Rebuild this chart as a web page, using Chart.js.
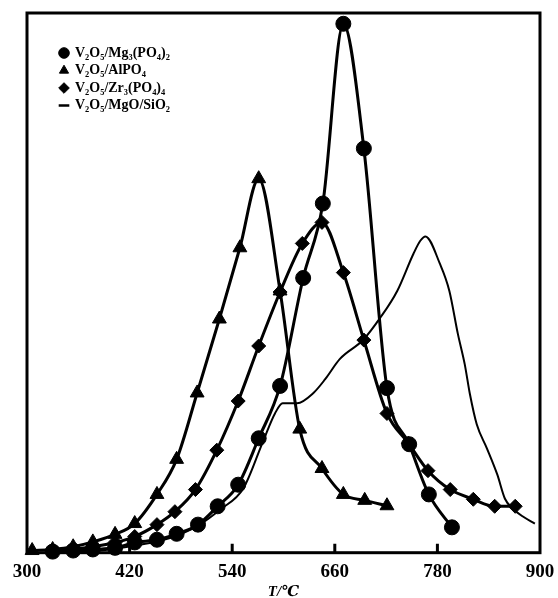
<!DOCTYPE html>
<html><head><meta charset="utf-8">
<script src="https://cdn.jsdelivr.net/npm/chart.js@4"></script>
<style>html,body{margin:0;padding:0;background:#fff}</style>
</head><body>
<canvas id="c" width="558" height="598"></canvas>
<script>
// ---- data (temperature in °C, signal intensity in arbitrary units 0-100) ----
const seriesNames = ['V₂O₅/Mg₃(PO₄)₂', 'V₂O₅/AlPO₄', 'V₂O₅/Zr₃(PO₄)₄', 'V₂O₅/MgO/SiO₂'];

const mgTemps  = [330, 354, 377, 403, 426, 452, 475, 500, 523, 547, 571, 596, 623, 646, 670, 694, 721, 747, 770, 797];
const mgValues = [0.2, 0.4, 0.6, 0.9, 1.9, 2.4, 3.5, 5.2, 8.6, 12.6, 21.2, 30.9, 50.9, 64.7, 98.0, 74.9, 30.5, 20.1, 10.8, 4.7];

const alTemps  = [306, 330, 354, 377, 403, 426, 452, 475, 499, 525, 549, 571, 596, 619, 645, 670, 695, 721];
const alValues = [0.4, 0.6, 1.1, 2.0, 3.4, 5.4, 10.8, 17.3, 29.6, 43.3, 56.5, 69.3, 48.5, 22.9, 15.6, 10.8, 9.7, 8.7];

const zrTemps  = [330, 354, 377, 403, 426, 452, 473, 497, 522, 547, 571, 596, 622, 645, 670, 694, 721, 746, 769, 795, 822, 847, 871];
const zrValues = [0.4, 0.7, 1.1, 1.9, 3.0, 5.2, 7.6, 11.7, 19.0, 28.1, 38.3, 48.3, 57.3, 61.2, 51.9, 39.4, 25.8, 20.3, 15.2, 11.7, 9.9, 8.6, 8.6];

const siTemps  = [330, 385, 426, 456, 479, 502, 526, 553, 576, 590, 599, 616, 635, 649, 666, 693, 713, 733, 752, 760, 766, 783, 794, 804, 812, 818, 826, 838, 850, 859, 868, 880, 894];
const siValues = [0.2, 0.4, 1.3, 2.2, 3.4, 5.2, 8.0, 11.9, 20.6, 25.8, 27.7, 27.7, 29.6, 32.2, 35.9, 39.4, 43.5, 48.5, 55.4, 57.8, 58.6, 53.5, 48.5, 40.5, 34.9, 29.4, 23.8, 19.3, 14.5, 10.0, 8.2, 6.7, 5.4];

const xTickValues = [300, 420, 540, 660, 780, 900];

const toPts = (xs, ys) => xs.map((x, i) => ({x: x, y: ys[i]}));

const SERIF = "'Liberation Serif', 'DejaVu Serif', serif";

const framePlugin = {
  id: 'frame',
  afterDatasetsDraw(chart) {
    const {ctx, chartArea: a, scales: {x}} = chart;
    ctx.save();
    ctx.strokeStyle = '#000';
    ctx.lineWidth = 3;
    ctx.strokeRect(a.left, a.top, a.right - a.left, a.bottom - a.top);
    ctx.beginPath();
    xTickValues.forEach(v => {
      if (v <= 300 || v >= 900) return;
      const px = x.getPixelForValue(v);
      ctx.moveTo(px, a.bottom);
      ctx.lineTo(px, a.bottom - 9);
    });
    ctx.stroke();
    ctx.restore();
  }
};

const legendShift = {
  id: 'legendShift',
  afterLayout(chart) {
    const l = chart.legend;
    if (!l) return;
    const dx = 29.5, dy = 42.5;
    l.left += dx; l.right += dx; l.top += dy; l.bottom += dy;
  }
};

const common = {
  borderColor: '#000', backgroundColor: '#000',
  pointBackgroundColor: '#000', pointBorderColor: '#000',
  borderWidth: 3, pointBorderWidth: 1,
  cubicInterpolationMode: 'monotone',
  clip: false
};

new Chart(document.getElementById('c'), {
  type: 'line',
  data: {
    datasets: [
      Object.assign({}, common, {label: seriesNames[0], data: toPts(mgTemps, mgValues), pointStyle: 'circle', pointRadius: 7.5}),
      Object.assign({}, common, {label: seriesNames[1], data: toPts(alTemps, alValues), pointStyle: 'triangle', pointRadius: 8}),
      Object.assign({}, common, {label: seriesNames[2], data: toPts(zrTemps, zrValues), pointStyle: 'rectRot', pointRadius: 7}),
      Object.assign({}, common, {label: seriesNames[3], data: toPts(siTemps, siValues), pointStyle: 'line', pointRadius: 0, borderWidth: 2, pointBorderWidth: 2.5})
    ]
  },
  options: {
    responsive: false,
    animation: false,
    events: [],
    layout: {autoPadding: false, padding: {left: 27, top: 13, right: 18, bottom: 0}},
    scales: {
      x: {
        type: 'linear', min: 300, max: 900,
        afterBuildTicks: (s) => { s.ticks = xTickValues.map(v => ({value: v})); },
        ticks: {color: '#000', padding: 3.5, font: {family: SERIF, size: 19, weight: 'bold', lineHeight: '31px'}},
        grid: {display: false, drawTicks: false},
        border: {display: false},
        title: {display: true, text: 'T/℃', color: '#000', padding: {top: -5.7, bottom: -2},
                font: {family: SERIF, size: 15, weight: 'bold', style: 'italic', lineHeight: 1}}
      },
      y: {display: false, min: 0, max: 100}
    },
    plugins: {
      legend: {
        position: 'chartArea', align: 'start',
        labels: {
          usePointStyle: true, boxWidth: 8, boxHeight: 7.5, padding: 3.5, color: '#000',
          font: {family: SERIF, size: 14, weight: 'bold'}
        }
      },
      tooltip: {enabled: false}
    }
  },
  plugins: [framePlugin, legendShift]
});
</script>
</body></html>
